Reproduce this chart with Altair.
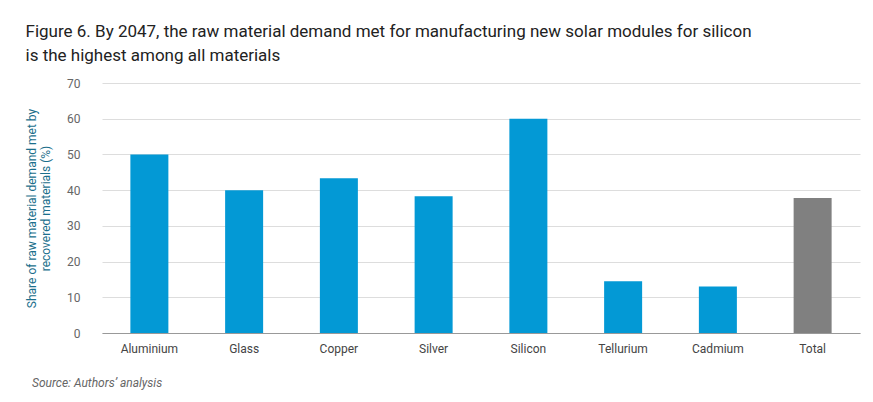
import altair as alt
import pandas as pd

categories = ["Aluminium", "Glass", "Copper", "Silver", "Silicon", "Tellurium", "Cadmium", "Total"]
values = [50, 40, 43.3, 38.3, 60, 14.5, 13, 37.8]
kinds = ["m", "m", "m", "m", "m", "m", "m", "t"]

df = pd.DataFrame({"cat": categories, "val": values, "kind": kinds})

bars = alt.Chart(df).mark_bar(size=38).encode(
    x=alt.X("cat:N", sort=categories, title=None,
            axis=alt.Axis(labelAngle=0, labelFont="Roboto", labelFontSize=12, labelColor="#444",
                          domainColor="#999", ticks=False, labelPadding=10)),
    y=alt.Y("val:Q", scale=alt.Scale(domain=[0, 70]),
            title=["Share of raw material demand met by", "recovered materials (%)"],
            axis=alt.Axis(values=list(range(0, 80, 10)), domain=False, ticks=False,
                          gridColor="#dddddd", labelFont="Roboto", labelFontSize=12,
                          labelColor="#666", labelPadding=22, titleFont="Roboto",
                          titleFontSize=12, titleFontWeight="normal", titleColor="#1b6f8c",
                          titlePadding=14)),
    color=alt.Color("kind:N", scale=alt.Scale(domain=["m", "t"], range=["#0399d5", "#808080"]),
                    legend=None),
)

src = alt.Chart(pd.DataFrame({"t": ["Source: Authors’ analysis"]})).mark_text(
    align="left", baseline="middle", font="Roboto", fontSize=12, fontStyle="italic",
    color="#666").encode(text="t:N", x=alt.value(-70), y=alt.value(300))

chart = alt.layer(bars, src).properties(
    width=758, height=250,
    padding={"left": 17, "top": 15, "right": 5, "bottom": 5},
    title=alt.TitleParams(
        ["Figure 6. By 2047, the raw material demand met for manufacturing new solar modules for silicon",
         "is the highest among all materials"],
        anchor="start", frame="bounds", font="Roboto", fontSize=17, fontWeight="normal",
        color="#222", lineHeight=24, offset=12),
).configure_view(stroke=None)

chart.save("out.html", embed_options={"renderer": "svg", "actions": False})
